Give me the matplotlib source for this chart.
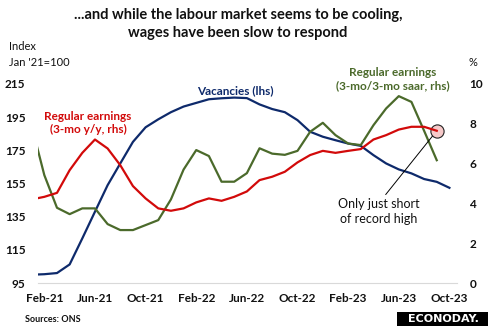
import matplotlib
matplotlib.use('Agg')
import matplotlib.pyplot as plt
from matplotlib.patches import Rectangle

plt.rcParams['font.family'] = ['Lato', 'DejaVu Sans']

# monthly data, Jan-21 .. Oct-23
months = ['Jan-21', 'Feb-21', 'Mar-21', 'Apr-21', 'May-21', 'Jun-21', 'Jul-21', 'Aug-21',
          'Sep-21', 'Oct-21', 'Nov-21', 'Dec-21', 'Jan-22', 'Feb-22', 'Mar-22', 'Apr-22',
          'May-22', 'Jun-22', 'Jul-22', 'Aug-22', 'Sep-22', 'Oct-22', 'Nov-22', 'Dec-22',
          'Jan-23', 'Feb-23', 'Mar-23', 'Apr-23', 'May-23', 'Jun-23', 'Jul-23', 'Aug-23',
          'Sep-23', 'Oct-23']

vacancies = [100.0, 100.3, 101.0, 106.2, 121.9, 138.0, 154.0, 167.1, 180.1, 188.9, 193.7,
             198.0, 201.4, 203.6, 205.8, 206.4, 206.8, 206.5, 202.7, 199.9, 198.0, 193.2,
             186.2, 183.2, 181.1, 179.1, 177.7, 172.1, 167.1, 163.5, 161.1, 157.7, 156.0,
             152.4]

earn_yy = [4.2, 4.33, 4.53, 5.67, 6.54, 7.21, 6.76, 5.92, 4.87, 4.25, 3.75, 3.63, 3.75,
           4.05, 4.25, 4.13, 4.33, 4.6, 5.17, 5.34, 5.59, 6.06, 6.43, 6.64, 6.54, 6.64,
           6.73, 7.21, 7.43, 7.71, 7.85, 7.85, 7.65]

earn_saar = [7.9, 5.42, 3.78, 3.46, 3.75, 3.75, 2.96, 2.66, 2.66, 2.91, 3.16, 4.2, 5.7,
             6.68, 6.38, 5.09, 5.09, 5.52, 6.77, 6.5, 6.44, 6.64, 7.6, 8.05, 7.43, 7.01,
             6.93, 7.93, 8.77, 9.39, 9.1, 7.65, 6.17]

tick_pos = [1, 5, 9, 13, 17, 21, 25, 29, 33]
left_ticks = [95, 115, 135, 155, 175, 195, 215]
right_ticks = [0, 2, 4, 6, 8, 10]

navy = '#0E2A6B'
red = '#D20A0A'
green = '#4B6A2B'

W, H = 489, 326
fig = plt.figure(figsize=(W / 100, H / 100), dpi=100)
ax = fig.add_axes([38 / W, 1 - 283 / H, (457 - 38) / W, (283 - 84) / H])
ax2 = ax.twinx()

x = list(range(len(months)))
ax.plot(x, vacancies, color=navy, lw=1.6)
ax2.plot(x[:len(earn_saar)], earn_saar, color=green, lw=1.6, zorder=3)
ax2.plot(32, earn_yy[-1], 'o', ms=9.5, mfc='#F6C9C9', mec='#222222', mew=0.8, zorder=2)
ax2.plot(x[:len(earn_yy)], earn_yy, color=red, lw=1.6, zorder=4)

ax.set_xlim(0.5, 33.6)
ax.set_ylim(95, 215)
ax2.set_ylim(0, 10)
ax.set_yticks(left_ticks)
ax2.set_yticks(right_ticks)
ax.set_xticks(tick_pos)
ax.set_xticklabels([months[i] for i in tick_pos])

for a in (ax, ax2):
    for s in a.spines.values():
        s.set_visible(False)
    a.tick_params(length=0, labelsize=8.5, colors='#111111')
ax.spines['bottom'].set_visible(True)
ax.spines['bottom'].set_color('#D9D9D9')
ax.tick_params(axis='y', pad=9)
ax.tick_params(axis='x', pad=7)
ax2.tick_params(axis='y', pad=9)
for lab in ax.get_xticklabels() + ax.get_yticklabels() + ax2.get_yticklabels():
    lab.set_fontweight('bold')

ax2.annotate('Only just short\nof record high', xy=(32, earn_yy[-1]), xytext=(27.4, 4.25),
             ha='center', va='top', fontsize=9, color='#111111', linespacing=1.25,
             arrowprops=dict(arrowstyle='-', color='black', lw=0.7,
                             relpos=(0.55, 1.0), shrinkA=1, shrinkB=5))

def ftext(px, py, s, **kw):
    fig.text(px / W, 1 - py / H, s, **kw)

ftext(238, 15, '...and while the labour market seems to be cooling,', ha='center', va='center',
      fontsize=10.5, fontweight='bold', color='#111111')
ftext(238, 33, 'wages have been slow to respond', ha='center', va='center',
      fontsize=10.5, fontweight='bold', color='#111111')
ftext(9, 47, 'Index', ha='left', va='center', fontsize=8, color='#111111')
ftext(9, 63, "Jan '21=100", ha='left', va='center', fontsize=8, color='#111111')
ftext(473, 63, '%', ha='center', va='center', fontsize=8, color='#111111')
ftext(235, 91, 'Vacancies (lhs)', ha='center', va='center', fontsize=8.5,
      fontweight='bold', color=navy)
ftext(88, 123, 'Regular earnings\n(3-mo y/y, rhs)', ha='center', va='center', fontsize=8.5,
      fontweight='bold', color=red, linespacing=1.25)
ftext(393, 79, 'Regular earnings\n(3-mo/3-mo saar, rhs)', ha='center', va='center',
      fontsize=8.5, fontweight='bold', color=green, linespacing=1.25)
ftext(25, 319, 'Sources: ONS', ha='left', va='center', fontsize=6.5, fontweight='bold',
      color='#111111')

fig.patches.append(Rectangle((397 / W, 0), 92 / W, 14.5 / H, transform=fig.transFigure,
                             facecolor='black', edgecolor='none'))
ftext(443, 319, 'ECONODAY.', ha='center', va='center', fontsize=8, fontweight='bold',
      color='white', family='DejaVu Sans')

fig.savefig('out.png', dpi=100)
